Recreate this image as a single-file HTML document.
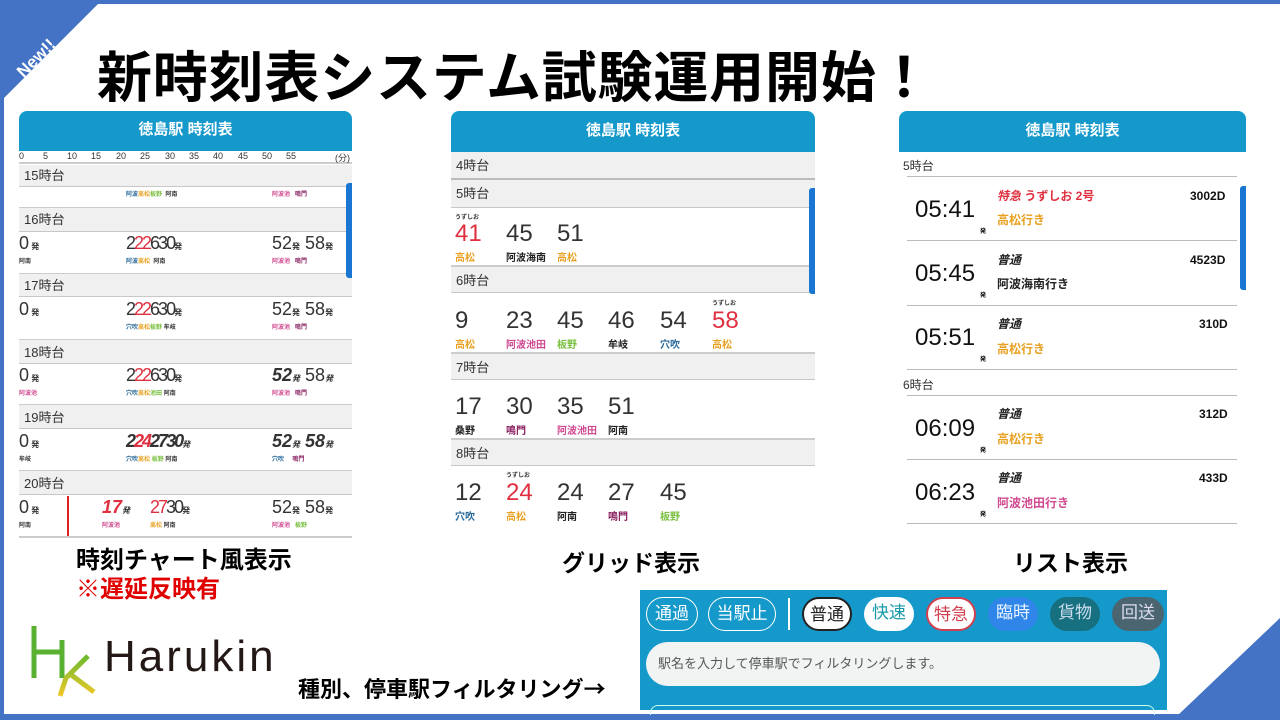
<!DOCTYPE html>
<html><head><meta charset="utf-8"><style>
*{margin:0;padding:0;box-sizing:border-box}
body{width:1280px;height:720px;position:relative;overflow:hidden;background:#fff;font-family:"Liberation Sans","Noto Sans CJK JP",sans-serif}
.a{position:absolute;white-space:nowrap}
.hdr{position:absolute;background:#1599cb;color:#fff;font-weight:bold;font-size:15px;text-align:center;border-radius:8px 8px 0 0}
.gray{position:absolute;background:#f0f0f0;border-bottom:1px solid #c8c8c8;font-size:13px;color:#333;padding-left:5px}
.num{position:absolute;font-size:24px;color:#333}
.st{position:absolute;font-size:10px;font-weight:bold}
.sm{position:absolute;font-size:6px;font-weight:bold}
.btn{position:absolute;top:597px;height:34px;border-radius:17px;font-size:17px;text-align:center;line-height:32px}
</style></head><body>
<!-- frame -->
<div class="a" style="left:0;top:0;width:1280px;height:4px;background:#4472c4"></div>
<div class="a" style="left:0;top:0;width:4px;height:720px;background:#4472c4"></div>
<div class="a" style="left:0;top:714px;width:1280px;height:6px;background:#4472c4"></div>
<svg class="a" style="left:0;top:0" width="1280" height="720"><polygon points="0,0 102,0 0,102" fill="#4472c4"/><polygon points="1177,716 1280,618 1280,720" fill="#4472c4"/>
<text x="40" y="62" transform="rotate(-45 40 62)" font-family="Liberation Sans" font-weight="bold" font-size="17" fill="#fff" text-anchor="middle">New!!</text></svg>
<div class="a" style="left:97px;top:33px;font-size:55px;font-weight:bold;color:#000;letter-spacing:0.8px">新時刻表システム試験運用開始！</div>

<!-- chart panel -->
<div class="hdr" style="left:19px;top:111px;width:333px;height:40px;line-height:38px">徳島駅 時刻表</div>
<div class="a" style="left:19px;top:151px;width:333px;height:13px;font-size:9px;color:#333;border-bottom:2px solid #ccc">
<span class="a" style="left:0">0</span><span class="a" style="left:24px">5</span><span class="a" style="left:48px">10</span><span class="a" style="left:72px">15</span><span class="a" style="left:97px">20</span><span class="a" style="left:121px">25</span><span class="a" style="left:146px">30</span><span class="a" style="left:170px">35</span><span class="a" style="left:194px">40</span><span class="a" style="left:219px">45</span><span class="a" style="left:243px">50</span><span class="a" style="left:267px">55</span><span class="a" style="left:316px">(分)</span></div>
<div class="gray" style="left:19px;top:165px;width:333px;height:22px;line-height:22px">15時台</div>
<div class="sm" style="left:126px;top:189px;color:#2a6a9a">阿波<span style="color:#e8a020">高松</span><span style="color:#7ac040">板野</span> &nbsp;<span style="color:#333">阿南</span></div>
<div class="sm" style="left:272px;top:189px;color:#d04a90">阿波池 &nbsp;&nbsp;<span style="color:#8a2060">鳴門</span></div>
<div class="a" style="left:19px;top:207px;width:333px;height:1px;background:#ccc"></div>
<div class="gray" style="left:19px;top:208px;width:333px;height:24px;line-height:24px">16時台</div>
<div class="gray" style="left:19px;top:273px;width:333px;height:24px;line-height:24px;border-top:1px solid #ccc">17時台</div>
<div class="gray" style="left:19px;top:339px;width:333px;height:25px;line-height:25px;border-top:1px solid #ccc">18時台</div>
<div class="gray" style="left:19px;top:404px;width:333px;height:25px;line-height:25px;border-top:1px solid #ccc">19時台</div>
<div class="gray" style="left:19px;top:470px;width:333px;height:25px;line-height:25px;border-top:1px solid #ccc">20時台</div>
<div class="a" style="left:19px;top:536px;width:333px;height:2px;background:#ccc"></div>
<div class="a" style="left:346px;top:183px;width:6px;height:95px;background:#1976d2;border-radius:3px 0 0 3px"></div>
<div class="a" style="left:67px;top:496px;width:2px;height:40px;background:#e02020"></div>
<!-- chart rows -->
<div class="a" style="left:19px;top:232px;font-size:18px;color:#333;line-height:22px">0<span style="font-size:8px;font-weight:bold"> 発</span></div>
<div class="a" style="left:19px;top:298px;font-size:18px;color:#333;line-height:22px">0<span style="font-size:8px;font-weight:bold"> 発</span></div>
<div class="a" style="left:19px;top:364px;font-size:18px;color:#333;line-height:22px">0<span style="font-size:8px;font-weight:bold"> 発</span></div>
<div class="a" style="left:19px;top:430px;font-size:18px;color:#333;line-height:22px">0<span style="font-size:8px;font-weight:bold"> 発</span></div>
<div class="a" style="left:19px;top:496px;font-size:18px;color:#333;line-height:22px">0<span style="font-size:8px;font-weight:bold"> 発</span></div>
<div class="a" style="left:126px;top:232px;font-size:18px;color:#333;line-height:22px;letter-spacing:-2px">2<span style="color:#e03040">22</span>630<span style="font-size:8px;font-weight:bold">発</span></div>
<div class="a" style="left:126px;top:298px;font-size:18px;color:#333;line-height:22px;letter-spacing:-2px">2<span style="color:#e03040">22</span>630<span style="font-size:8px;font-weight:bold">発</span></div>
<div class="a" style="left:126px;top:364px;font-size:18px;color:#333;line-height:22px;letter-spacing:-2px">2<span style="color:#e03040">22</span>630<span style="font-size:8px;font-weight:bold">発</span></div>
<div class="a" style="left:126px;top:430px;font-size:18px;color:#333;line-height:22px;letter-spacing:-2px;font-weight:bold;font-style:italic">2<span style="color:#e03040">24</span>2730<span style="font-size:8px">発</span></div>
<div class="a" style="left:102px;top:496px;font-size:18px;color:#e03040;line-height:22px;font-weight:bold;font-style:italic">17<span style="font-size:8px;color:#333">発</span></div>
<div class="a" style="left:150px;top:496px;font-size:18px;color:#e03040;line-height:22px;letter-spacing:-2px">27<span style="color:#333">30</span><span style="font-size:8px;font-weight:bold;color:#333">発</span></div>
<div class="a" style="left:272px;top:232px;font-size:18px;color:#333;line-height:22px">52<span style="font-size:8px;font-weight:bold">発</span> 58<span style="font-size:8px;font-weight:bold">発</span></div>
<div class="a" style="left:272px;top:298px;font-size:18px;color:#333;line-height:22px">52<span style="font-size:8px;font-weight:bold">発</span> 58<span style="font-size:8px;font-weight:bold">発</span></div>
<div class="a" style="left:272px;top:364px;font-size:18px;color:#333;line-height:22px;font-weight:bold;font-style:italic">52<span style="font-size:8px">発</span> <span style="font-weight:normal;font-style:normal">58</span><span style="font-size:8px">発</span></div>
<div class="a" style="left:272px;top:430px;font-size:18px;color:#333;line-height:22px;font-weight:bold;font-style:italic">52<span style="font-size:8px">発</span> 58<span style="font-size:8px">発</span></div>
<div class="a" style="left:272px;top:496px;font-size:18px;color:#333;line-height:22px">52<span style="font-size:8px;font-weight:bold">発</span> 58<span style="font-size:8px;font-weight:bold">発</span></div>
<div class="sm" style="left:19px;top:256px;color:#333">阿南</div><div class="sm" style="left:126px;top:256px;color:#2a6a9a">阿波<span style="color:#e8a020">高松</span> &nbsp;<span style="color:#333">阿南</span></div><div class="sm" style="left:272px;top:256px;color:#d04a90">阿波池 &nbsp;&nbsp;<span style="color:#8a2060">鳴門</span></div>
<div class="sm" style="left:126px;top:322px;color:#2a6a9a">穴吹<span style="color:#e8a020">高松</span><span style="color:#7ac040">板野</span> <span style="color:#333">牟岐</span></div><div class="sm" style="left:272px;top:322px;color:#d04a90">阿波池 &nbsp;&nbsp;<span style="color:#8a2060">鳴門</span></div>
<div class="sm" style="left:19px;top:388px;color:#d04a90">阿波池</div><div class="sm" style="left:126px;top:388px;color:#2a6a9a">穴吹<span style="color:#e8a020">高松</span><span style="color:#7ac040">池田</span> <span style="color:#333">阿南</span></div><div class="sm" style="left:272px;top:388px;color:#d04a90">阿波池 &nbsp;&nbsp;<span style="color:#8a2060">鳴門</span></div>
<div class="sm" style="left:19px;top:454px;color:#333">牟岐</div><div class="sm" style="left:126px;top:454px;color:#2a6a9a">穴吹<span style="color:#e8a020">高松</span> <span style="color:#7ac040">板野</span> <span style="color:#333">阿南</span></div><div class="sm" style="left:272px;top:454px;color:#2a6a9a">穴吹 &nbsp;&nbsp;&nbsp;&nbsp;<span style="color:#8a2060">鳴門</span></div>
<div class="sm" style="left:19px;top:520px;color:#333">阿南</div><div class="sm" style="left:102px;top:520px;color:#d04a90">阿波池</div><div class="sm" style="left:150px;top:520px;color:#e8a020">高松 <span style="color:#333">阿南</span></div><div class="sm" style="left:272px;top:520px;color:#d04a90">阿波池 &nbsp;&nbsp;<span style="color:#7ac040">板野</span></div>

<!-- grid panel -->
<div class="hdr" style="left:451px;top:111px;width:364px;height:41px;line-height:40px">徳島駅 時刻表</div>
<div class="gray" style="left:451px;top:152px;width:364px;height:28px;line-height:28px;border-bottom:2px solid #bbb">4時台</div>
<div class="gray" style="left:451px;top:180px;width:364px;height:28px;line-height:28px">5時台</div>
<div class="gray" style="left:451px;top:265px;width:364px;height:28px;line-height:28px;border-top:2px solid #ccc">6時台</div>
<div class="gray" style="left:451px;top:352px;width:364px;height:28px;line-height:28px;border-top:2px solid #ccc">7時台</div>
<div class="gray" style="left:451px;top:438px;width:364px;height:28px;line-height:28px;border-top:2px solid #ccc">8時台</div>
<div class="a" style="left:809px;top:188px;width:6px;height:106px;background:#1976d2;border-radius:3px 0 0 3px"></div>
<div class="sm" style="left:455px;top:212px;color:#333">うずしお</div>
<div class="num" style="left:455px;top:220px;color:#e03040">41</div><div class="num" style="left:506px;top:220px">45</div><div class="num" style="left:557px;top:220px">51</div>
<div class="st" style="left:455px;top:249px;color:#e8a020">高松</div><div class="st" style="left:506px;top:249px;color:#222">阿波海南</div><div class="st" style="left:557px;top:249px;color:#e8a020">高松</div>
<div class="sm" style="left:712px;top:298px;color:#333">うずしお</div>
<div class="num" style="left:455px;top:307px">9</div><div class="num" style="left:506px;top:307px">23</div><div class="num" style="left:557px;top:307px">45</div><div class="num" style="left:608px;top:307px">46</div><div class="num" style="left:660px;top:307px">54</div><div class="num" style="left:712px;top:307px;color:#e03040">58</div>
<div class="st" style="left:455px;top:336px;color:#e8a020">高松</div><div class="st" style="left:506px;top:336px;color:#d04a90">阿波池田</div><div class="st" style="left:557px;top:336px;color:#7ac040">板野</div><div class="st" style="left:608px;top:336px;color:#222">牟岐</div><div class="st" style="left:660px;top:336px;color:#2a6a9a">穴吹</div><div class="st" style="left:712px;top:336px;color:#e8a020">高松</div>
<div class="num" style="left:455px;top:393px">17</div><div class="num" style="left:506px;top:393px">30</div><div class="num" style="left:557px;top:393px">35</div><div class="num" style="left:608px;top:393px">51</div>
<div class="st" style="left:455px;top:422px;color:#222">桑野</div><div class="st" style="left:506px;top:422px;color:#8a2060">鳴門</div><div class="st" style="left:557px;top:422px;color:#d04a90">阿波池田</div><div class="st" style="left:608px;top:422px;color:#222">阿南</div>
<div class="sm" style="left:506px;top:470px;color:#333">うずしお</div>
<div class="num" style="left:455px;top:479px">12</div><div class="num" style="left:506px;top:479px;color:#e03040">24</div><div class="num" style="left:557px;top:479px">24</div><div class="num" style="left:608px;top:479px">27</div><div class="num" style="left:660px;top:479px">45</div>
<div class="st" style="left:455px;top:508px;color:#2a6a9a">穴吹</div><div class="st" style="left:506px;top:508px;color:#e8a020">高松</div><div class="st" style="left:557px;top:508px;color:#222">阿南</div><div class="st" style="left:608px;top:508px;color:#8a2060">鳴門</div><div class="st" style="left:660px;top:508px;color:#7ac040">板野</div>

<!-- list panel -->
<div class="hdr" style="left:899px;top:111px;width:347px;height:41px;line-height:40px">徳島駅 時刻表</div>
<div class="a" style="left:903px;top:157px;font-size:12px;color:#333">5時台</div>
<div class="a" style="left:903px;top:376px;font-size:12px;color:#333">6時台</div>
<div class="a" style="left:1240px;top:186px;width:6px;height:104px;background:#1976d2;border-radius:3px 0 0 3px"></div>
<div class="a" style="left:907px;top:176px;width:330px;height:1px;background:#bbb"></div>
<div class="a" style="left:907px;top:240px;width:330px;height:1px;background:#bbb"></div>
<div class="a" style="left:907px;top:305px;width:330px;height:1px;background:#bbb"></div>
<div class="a" style="left:907px;top:369px;width:330px;height:1px;background:#bbb"></div>
<div class="a" style="left:907px;top:395px;width:330px;height:1px;background:#bbb"></div>
<div class="a" style="left:907px;top:459px;width:330px;height:1px;background:#bbb"></div>
<div class="a" style="left:907px;top:523px;width:330px;height:1px;background:#bbb"></div>
<div class="a" style="left:915px;top:196px;font-size:24px;color:#111">05:41</div>
<div class="a" style="left:915px;top:260px;font-size:24px;color:#111">05:45</div>
<div class="a" style="left:915px;top:324px;font-size:24px;color:#111">05:51</div>
<div class="a" style="left:915px;top:415px;font-size:24px;color:#111">06:09</div>
<div class="a" style="left:915px;top:479px;font-size:24px;color:#111">06:23</div>
<div class="sm" style="left:980px;top:226px">発</div><div class="sm" style="left:980px;top:290px">発</div><div class="sm" style="left:980px;top:354px">発</div><div class="sm" style="left:980px;top:445px">発</div><div class="sm" style="left:980px;top:509px">発</div>
<div class="a" style="left:997px;top:187px;font-size:12px;font-weight:bold;color:#e03040"><i>特急</i> うずしお 2号</div>
<div class="a" style="left:997px;top:211px;font-size:12px;font-weight:bold;color:#e8a020">高松行き</div>
<div class="a" style="left:997px;top:251px;font-size:12px;font-weight:bold;color:#222"><i>普通</i></div>
<div class="a" style="left:997px;top:275px;font-size:12px;font-weight:bold;color:#222">阿波海南行き</div>
<div class="a" style="left:997px;top:315px;font-size:12px;font-weight:bold;color:#222"><i>普通</i></div>
<div class="a" style="left:997px;top:340px;font-size:12px;font-weight:bold;color:#e8a020">高松行き</div>
<div class="a" style="left:997px;top:405px;font-size:12px;font-weight:bold;color:#222"><i>普通</i></div>
<div class="a" style="left:997px;top:430px;font-size:12px;font-weight:bold;color:#e8a020">高松行き</div>
<div class="a" style="left:997px;top:469px;font-size:12px;font-weight:bold;color:#222"><i>普通</i></div>
<div class="a" style="left:997px;top:494px;font-size:12px;font-weight:bold;color:#d04a90">阿波池田行き</div>
<div class="a" style="left:1190px;top:189px;font-size:12px;font-weight:bold;color:#111">3002D</div>
<div class="a" style="left:1190px;top:253px;font-size:12px;font-weight:bold;color:#111">4523D</div>
<div class="a" style="left:1199px;top:317px;font-size:12px;font-weight:bold;color:#111">310D</div>
<div class="a" style="left:1199px;top:407px;font-size:12px;font-weight:bold;color:#111">312D</div>
<div class="a" style="left:1199px;top:471px;font-size:12px;font-weight:bold;color:#111">433D</div>

<!-- captions -->
<div class="a" style="left:76px;top:540px;font-size:24px;font-weight:bold;color:#000">時刻チャート風表示</div>
<div class="a" style="left:76px;top:569px;font-size:24px;font-weight:bold;color:#e00000">※遅延反映有</div>
<div class="a" style="left:562px;top:544px;font-size:23px;font-weight:bold;color:#000">グリッド表示</div>
<div class="a" style="left:1013px;top:544px;font-size:23px;font-weight:bold;color:#000">リスト表示</div>

<!-- logo -->
<svg class="a" style="left:30px;top:622px" width="70" height="76"><defs><linearGradient id="g" x1="0" y1="0" x2="0" y2="1"><stop offset="0" stop-color="#6ab82e"/><stop offset="1" stop-color="#f0c828"/></linearGradient></defs>
<path d="M4,4 V56 M4,30 H32 M32,18 V56" stroke="#5ab030" stroke-width="5" fill="none"/><path d="M58,34 L36,56 L30,74 M40,52 L64,70" stroke="url(#g)" stroke-width="5" fill="none"/></svg>
<div class="a" style="left:104px;top:632px;font-size:44px;color:#231815;letter-spacing:3px;font-weight:300">Harukin</div>
<div class="a" style="left:298px;top:672px;font-size:22px;font-weight:bold;color:#000">種別、停車駅フィルタリング<span style="font-family:'Noto Sans CJK JP',sans-serif">→</span></div>

<!-- filter -->
<div class="a" style="left:640px;top:590px;width:527px;height:120px;background:#1599cb"></div>
<div class="btn" style="left:646px;width:52px;border:1.5px solid #fff;color:#fff">通過</div>
<div class="btn" style="left:708px;width:68px;border:1.5px solid #fff;color:#fff">当駅止</div>
<div class="a" style="left:788px;top:598px;width:2px;height:32px;background:#fff"></div>
<div class="btn" style="left:802px;width:50px;background:#fff;border:2px solid #222;color:#222">普通</div>
<div class="btn" style="left:864px;width:50px;background:#fff;color:#1a9aa8">快速</div>
<div class="btn" style="left:926px;width:50px;background:#fff;border:2px solid #d04050;color:#d04050">特急</div>
<div class="btn" style="left:988px;width:50px;background:#2f86e8;color:#e8f2ff">臨時</div>
<div class="btn" style="left:1050px;width:50px;background:#16707f;color:#cde">貨物</div>
<div class="btn" style="left:1112px;width:52px;background:#4a6470;color:#dde">回送</div>
<div class="a" style="left:646px;top:642px;width:514px;height:44px;border-radius:22px;background:#f2f4f4;font-size:13px;color:#555;line-height:44px;padding-left:12px">駅名を入力して停車駅でフィルタリングします。</div>
<div class="a" style="left:650px;top:705px;width:505px;height:10px;border:1.5px solid #cfe;border-bottom:none;border-radius:8px 8px 0 0"></div>
</body></html>
